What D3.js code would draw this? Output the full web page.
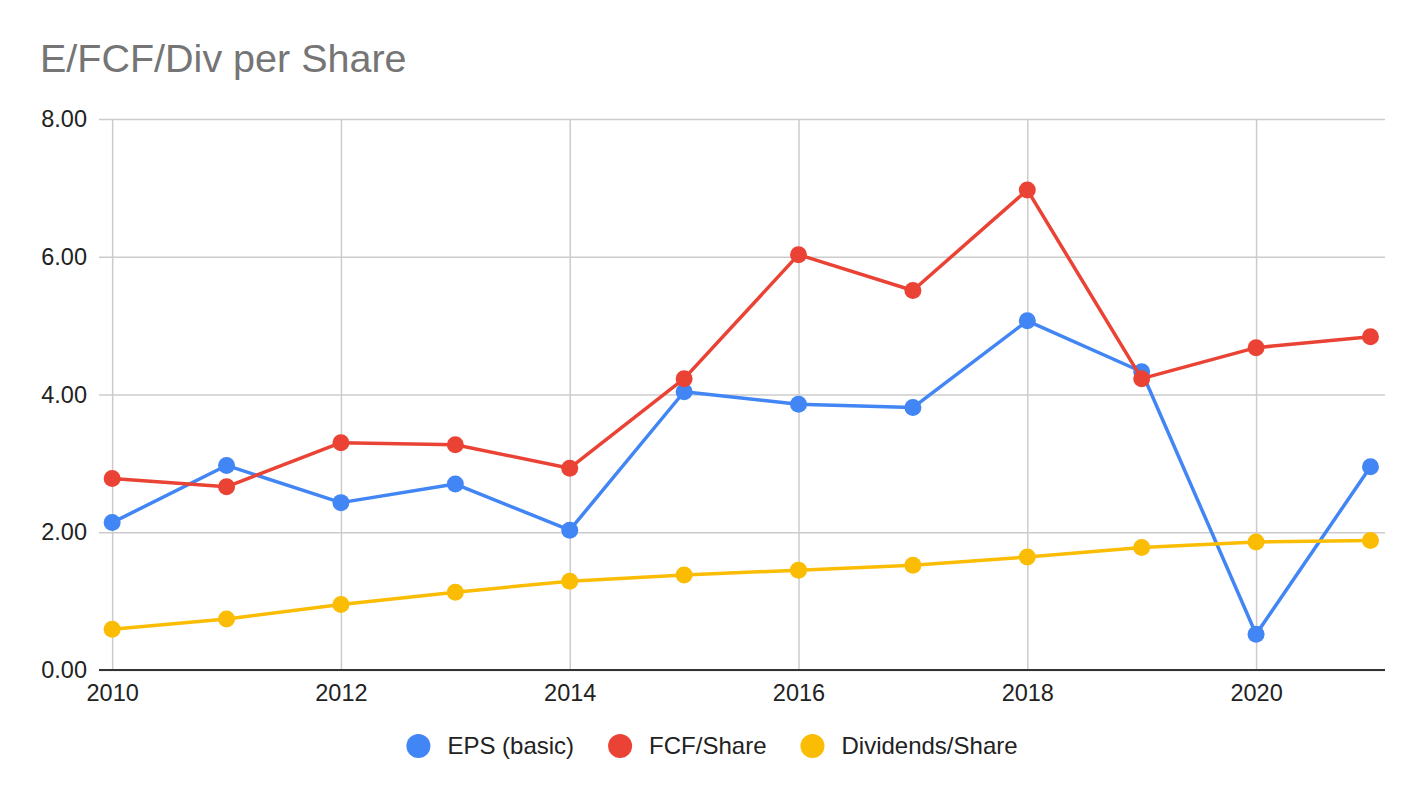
<!DOCTYPE html>
<html>
<head>
<meta charset="utf-8">
<script src="https://cdn.jsdelivr.net/npm/d3@7"></script>
<style>
  html, body { margin: 0; padding: 0; background: #fff; }
  svg { display: block; font-family: "Liberation Sans", Arial, sans-serif; }
</style>
</head>
<body>
<svg id="chart" width="1424" height="798"></svg>
<script>
const years = [2010, 2011, 2012, 2013, 2014, 2015, 2016, 2017, 2018, 2019, 2020, 2021];
const epsBasic = [2.14, 2.97, 2.43, 2.70, 2.03, 4.04, 3.86, 3.81, 5.07, 4.33, 0.52, 2.95];
const fcfShare = [2.78, 2.66, 3.30, 3.27, 2.93, 4.23, 6.03, 5.51, 6.97, 4.23, 4.68, 4.84];
const divShare = [0.59, 0.74, 0.95, 1.13, 1.29, 1.38, 1.45, 1.52, 1.64, 1.78, 1.86, 1.88];
const seriesNames = ["EPS (basic)", "FCF/Share", "Dividends/Share"];
const seriesColors = ["#4285f4", "#ea4335", "#fbbc04"];
const xTicks = [2010, 2012, 2014, 2016, 2018, 2020];
const yTicks = [0, 2, 4, 6, 8];
const title = "E/FCF/Div per Share";

(function () {
const series = [
  { name: seriesNames[0], color: seriesColors[0], values: epsBasic },
  { name: seriesNames[1], color: seriesColors[1], values: fcfShare },
  { name: seriesNames[2], color: seriesColors[2], values: divShare }
];

const svg = d3.select("#chart");
const pL = 99, pR = 1385, pT = 119, pB = 670;
const tickFont = 23.5, legendFont = 24;

const x = d3.scaleLinear().domain([2009.885, 2021.127]).range([pL, pR]);
const y = d3.scaleLinear().domain([0, 8]).range([pB, pT]);

// title
svg.append("text")
  .attr("x", 40).attr("y", 72)
  .attr("font-size", 39.5)
  .attr("fill", "#757575")
  .text(title);

// horizontal gridlines
const yAxis = d3.axisLeft(y).tickValues(yTicks).tickFormat(d3.format(".2f"))
  .tickSize(-(pR - pL)).tickPadding(12);
const gy = svg.append("g").attr("transform", `translate(${pL},0)`).call(yAxis);
gy.select(".domain").remove();
gy.selectAll(".tick line").attr("stroke", "#cccccc").attr("stroke-width", 1.5);
gy.selectAll(".tick text").attr("font-size", tickFont).attr("fill", "#222")
  .attr("font-family", "Liberation Sans, Arial, sans-serif");

// vertical gridlines
const xAxis = d3.axisBottom(x).tickValues(xTicks).tickFormat(d3.format("d"))
  .tickSize(-(pB - pT)).tickPadding(14);
const gx = svg.append("g").attr("transform", `translate(0,${pB})`).call(xAxis);
gx.select(".domain").remove();
gx.selectAll(".tick line").attr("stroke", "#cccccc").attr("stroke-width", 1.5);
gx.selectAll(".tick text").attr("font-size", tickFont).attr("fill", "#222")
  .attr("font-family", "Liberation Sans, Arial, sans-serif");

// baseline
svg.append("line")
  .attr("x1", pL).attr("x2", pR)
  .attr("y1", y(0)).attr("y2", y(0))
  .attr("stroke", "#333").attr("stroke-width", 2);

const line = d3.line().x((d, i) => x(years[i])).y(d => y(d));

series.forEach(s => {
  svg.append("path")
    .datum(s.values)
    .attr("fill", "none")
    .attr("stroke", s.color)
    .attr("stroke-width", 3.5)
    .attr("stroke-linejoin", "round")
    .attr("d", line);
  svg.append("g").selectAll("circle")
    .data(s.values)
    .join("circle")
    .attr("cx", (d, i) => x(years[i]))
    .attr("cy", d => y(d))
    .attr("r", 8.5)
    .attr("fill", s.color);
});

// legend
const legend = svg.append("g");
const items = legend.selectAll("g").data(series).join("g");
items.append("circle").attr("r", 12).attr("cy", 0).attr("cx", 12).attr("fill", d => d.color);
items.append("text").attr("x", 41).attr("y", 0).attr("dy", "0.35em")
  .attr("font-size", legendFont).attr("fill", "#222").text(d => d.name);
const gap = 34;
const widths = [];
items.each(function () {
  widths.push(this.querySelector("text").getComputedTextLength() + 41);
});
const total = widths.reduce((a, b) => a + b, 0) + gap * (widths.length - 1);
let start = 712 - total / 2;
items.attr("transform", (d, i) => {
  const tx = start;
  start += widths[i] + gap;
  return `translate(${tx},746)`;
});
})();
</script>
</body>
</html>
